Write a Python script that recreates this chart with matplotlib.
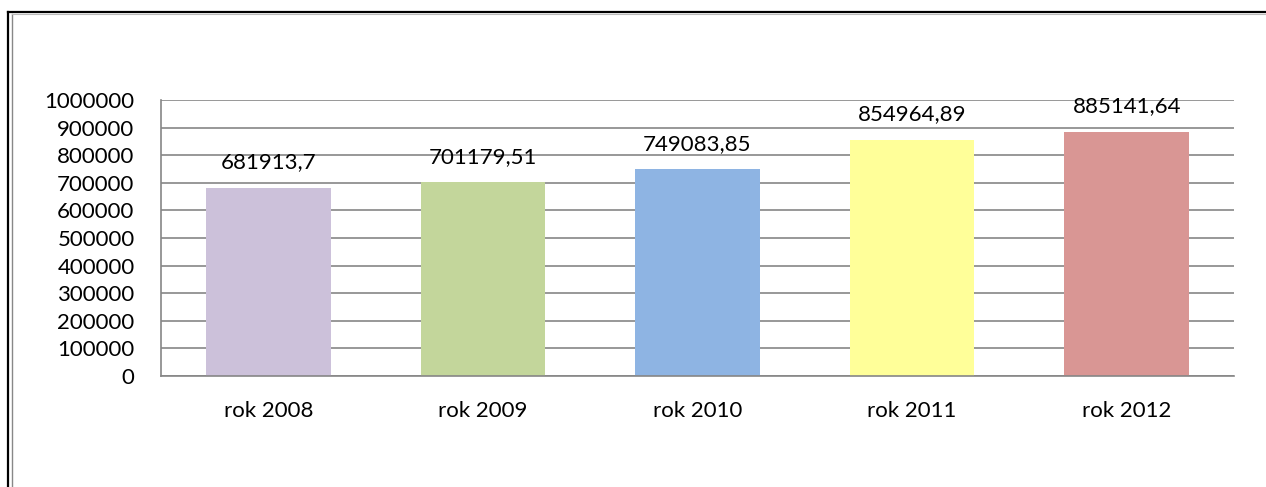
import matplotlib
matplotlib.use('Agg')
import matplotlib.pyplot as plt
from matplotlib.lines import Line2D

plt.rcParams['font.family'] = ['Lato', 'DejaVu Sans']

years = ['rok 2008', 'rok 2009', 'rok 2010', 'rok 2011', 'rok 2012']
values = [681913.7, 701179.51, 749083.85, 854964.89, 885141.64]
value_labels = ['681913,7', '701179,51', '749083,85', '854964,89', '885141,64']
bar_colors = ['#CCC1DA', '#C3D69B', '#8EB4E3', '#FFFF99', '#D99694']

fig = plt.figure(figsize=(12.66, 4.87), dpi=100)
ax = fig.add_axes([161 / 1266, 111 / 487, 1073 / 1266, 276 / 487])

x = range(len(years))
ax.bar(x, values, width=0.58, color=bar_colors, zorder=2)

for i, v in enumerate(values):
    ax.annotate(value_labels[i], (i, v), xytext=(0, 14), textcoords='offset points',
                ha='center', va='baseline', fontsize=16, color='black')

ax.set_xlim(-0.5, len(years) - 0.5)
ax.set_ylim(0, 1000000)
ax.set_yticks(range(0, 1000001, 100000))
ax.set_yticklabels([str(t) for t in range(0, 1000001, 100000)])
ax.set_xticks(list(x))
ax.set_xticklabels(years)
ax.tick_params(axis='both', length=0, labelsize=16)
ax.tick_params(axis='y', pad=19)
ax.tick_params(axis='x', pad=18)

ax.yaxis.grid(True, color='#868686', linewidth=1.2, zorder=0)
ax.set_axisbelow(True)
for s in ['top', 'right']:
    ax.spines[s].set_visible(False)
ax.spines['left'].set_color('#868686')
ax.spines['bottom'].set_color('#868686')
ax.spines['left'].set_linewidth(1.2)
ax.spines['bottom'].set_linewidth(1.2)

# frame around the chart
W, H = 1266, 487
fig.add_artist(Line2D([8 / W, 1], [1 - 12 / H, 1 - 12 / H], color='black', linewidth=1.6))
fig.add_artist(Line2D([8 / W, 8 / W], [0, 1 - 12 / H], color='black', linewidth=1.6))
fig.add_artist(Line2D([12 / W, 12 / W], [0, 1 - 14 / H], color='#888888', linewidth=1.0))
fig.add_artist(Line2D([12 / W, 1], [1 - 14 / H, 1 - 14 / H], color='#BBBBBB', linewidth=0.8))

fig.savefig('out.png', dpi=100)
